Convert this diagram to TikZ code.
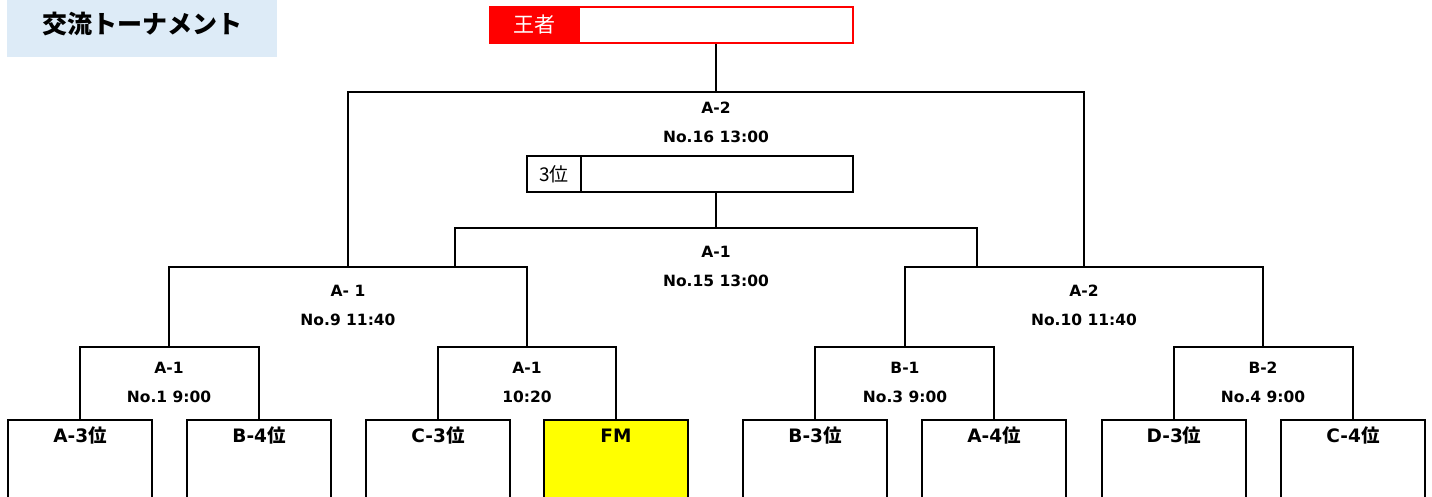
\documentclass[tikz,border=0pt]{standalone}
\usepackage{fontspec}
\setmainfont{DejaVu Sans}
\newfontfamily\jpf{Noto Sans CJK JP}
\definecolor{titlebg}{RGB}{221,235,247}
\definecolor{fmyellow}{RGB}{255,255,0}
\begin{document}
\begin{tikzpicture}[x=1pt,y=-1pt,
  line/.style={line width=2pt},
  teambox/.style={draw, line width=2pt, minimum width=144pt, minimum height=100pt, anchor=north, inner sep=0pt},
  lbl/.style={font=\fontsize{15.5}{18}\selectfont\bfseries, anchor=base, inner sep=0pt},
  tlbl/.style={font=\fontsize{18.5}{22}\selectfont\bfseries, anchor=base, inner sep=0pt}]
\useasboundingbox (0,0) rectangle (1432,497);
\clip (0,0) rectangle (1432,497);

% title
\node[fill=titlebg, minimum width=270pt, minimum height=57pt, anchor=north west, inner sep=0pt] (title) at (7,0) {};
\node[font=\jpf\bfseries\fontsize{25}{30}\selectfont, inner sep=0pt] (titlet) at (142,24) {交流トーナメント};

% champion box
\node[fill=red, minimum width=91pt, minimum height=36pt, anchor=north west, inner sep=0pt,
      font=\jpf\fontsize{21}{24}\selectfont, text=white] (champl) at (489,6) {王者};
\node[draw=red, line width=2pt, minimum width=363pt, minimum height=36pt, anchor=north west, inner sep=0pt] (champ) at (489,6) {};

% third place box
\node[draw, line width=2pt, minimum width=54pt, minimum height=36pt, anchor=north west, inner sep=0pt,
      font=\jpf\fontsize{19}{22}\selectfont] (thirdl) at (526,155) {3位};
\node[draw, line width=2pt, minimum width=326pt, minimum height=36pt, anchor=north west, inner sep=0pt] (third) at (526,155) {};

% team boxes
\node[teambox] (b1) at (80,419) {};
\node[teambox] (b2) at (259,419) {};
\node[teambox] (b3) at (438,419) {};
\node[teambox, fill=fmyellow] (b4) at (616,419) {};
\node[teambox] (b5) at (815,419) {};
\node[teambox] (b6) at (994,419) {};
\node[teambox] (b7) at (1174,419) {};
\node[teambox] (b8) at (1353,419) {};

\node[tlbl] (t1) at ([yshift=-23pt]b1.north) {A-3\jpf 位};
\node[tlbl] (t2) at ([yshift=-23pt]b2.north) {B-4\jpf 位};
\node[tlbl] (t3) at ([yshift=-23pt]b3.north) {C-3\jpf 位};
\node[tlbl] (t4) at ([yshift=-23pt]b4.north) {FM};
\node[tlbl] (t5) at ([yshift=-23pt]b5.north) {B-3\jpf 位};
\node[tlbl] (t6) at ([yshift=-23pt]b6.north) {A-4\jpf 位};
\node[tlbl] (t7) at ([yshift=-23pt]b7.north) {D-3\jpf 位};
\node[tlbl] (t8) at ([yshift=-23pt]b8.north) {C-4\jpf 位};

% match points
\coordinate (m1) at (169,347);
\coordinate (m2) at (527,347);
\coordinate (m3) at (905,347);
\coordinate (m4) at (1263,347);
\coordinate (r1) at (348,267);
\coordinate (r2) at (1084,267);
\coordinate (q1) at (455,267);
\coordinate (q2) at (977,267);
\coordinate (tc) at (716,228);
\coordinate (fc) at (716,92);

% brackets
\draw[line] (b1.north) |- (m1) -| (b2.north);
\draw[line] (b3.north) |- (m2) -| (b4.north);
\draw[line] (b5.north) |- (m3) -| (b6.north);
\draw[line] (b7.north) |- (m4) -| (b8.north);
\draw[line] (m1) |- (r1) -| (m2);
\draw[line] (m3) |- (r2) -| (m4);
\draw[line] (q1) |- (tc) -| (q2);
\draw[line] (tc) -- (tc |- third.south);
\draw[line] (r1) |- (fc) -| (r2);
\draw[line] (fc) -- (fc |- champ.south);

% match labels
\node[lbl] (l1a) at (169,373) {A-1};
\node[lbl] (l1b) at (169,402) {No.1 9:00};
\node[lbl] (l2a) at (527,373) {A-1};
\node[lbl] (l2b) at (527,402) {10:20};
\node[lbl] (l3a) at (905,373) {B-1};
\node[lbl] (l3b) at (905,402) {No.3 9:00};
\node[lbl] (l4a) at (1263,373) {B-2};
\node[lbl] (l4b) at (1263,402) {No.4 9:00};
\node[lbl] (l9a) at (348,296) {A- 1};
\node[lbl] (l9b) at (348,325) {No.9 11:40};
\node[lbl] (l10a) at (1084,296) {A-2};
\node[lbl] (l10b) at (1084,325) {No.10 11:40};
\node[lbl] (l15a) at (716,257) {A-1};
\node[lbl] (l15b) at (716,286) {No.15 13:00};
\node[lbl] (l16a) at (716,113.5) {A-2};
\node[lbl] (l16b) at (716,143) {No.16 13:00};
\end{tikzpicture}
\end{document}
